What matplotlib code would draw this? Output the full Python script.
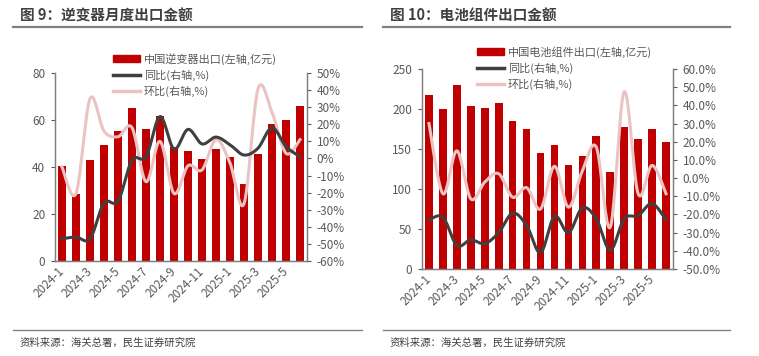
import numpy as np
import matplotlib.pyplot as plt
from matplotlib.lines import Line2D
from matplotlib.patches import Rectangle

plt.rcParams['font.family'] = ['Noto Sans CJK SC', 'DejaVu Sans']

months = ['2024-1', '2024-2', '2024-3', '2024-4', '2024-5', '2024-6', '2024-7', '2024-8', '2024-9',
          '2024-10', '2024-11', '2024-12', '2025-1', '2025-2', '2025-3', '2025-4', '2025-5', '2025-6']

# 图9 逆变器
inv_value = [40.4, 28.5, 43.0, 49.4, 55.4, 65.2, 56.2, 61.7, 48.4, 46.8, 43.4, 47.8, 44.1, 32.8, 45.4, 58.3, 59.9, 65.8]
inv_yoy = [-47, -46, -47, -26, -25, -1, 1, 24.5, 5.5, 17, 8.5, 12.5, 8, 2, 6, 18, 7, 1]
inv_mom = [-5, -20.5, 35, 16, 12.7, 18, -13.6, 10, -20.5, -4.3, -6.7, 11, -2.7, -26.4, 40.6, 27, 3, 11]

# 图10 电池组件
mod_value = [218, 200, 229.5, 203.7, 201, 207.5, 185, 175, 145, 154.5, 129.5, 141.6, 165.8, 120.8, 178, 163, 174.5, 159]
mod_yoy = [-23, -21.5, -37, -34, -36, -30, -19.3, -26, -41, -21, -30, -16.4, -22.4, -39.6, -22.4, -20.6, -14, -23]
mod_mom = [30, -8.6, 15, -11.4, -2.2, 2.4, -10.5, -5.3, -17, 6.5, -16, 4, 17, -27, 47.5, -8.6, 7, -8.6]

RED = '#C00000'
DARK = '#404040'
PINK = '#EBC3C3'
GRAY = '#595959'

W, H = 759, 356


def smooth(y, n=20):
    # catmull-rom curve through the points (like excel smoothed line)
    y = np.asarray(y, float)
    x = np.arange(len(y), dtype=float)
    px = np.concatenate([[x[0]], x, [x[-1]]])
    py = np.concatenate([[y[0]], y, [y[-1]]])
    xs, ys = [], []
    t = np.linspace(0, 1, n, endpoint=False)
    for i in range(1, len(px) - 2):
        for p, out in ((px, xs), (py, ys)):
            p0, p1, p2, p3 = p[i - 1], p[i], p[i + 1], p[i + 2]
            out.append(0.5 * (2 * p1 + (-p0 + p2) * t + (2 * p0 - 5 * p1 + 4 * p2 - p3) * t ** 2
                              + (-p0 + 3 * p1 - 3 * p2 + p3) * t ** 3))
    xs.append([x[-1]])
    ys.append([y[-1]])
    return np.concatenate(xs), np.concatenate(ys)


def frac(x0, x1, top, bottom):
    return [x0 / W, 1 - bottom / H, (x1 - x0) / W, (bottom - top) / H]


def panel(rect, values, yoy, mom, ylim, yticks, plim, pticks, pfmt, bar_label, leg_xy):
    ax = fig.add_axes(rect)
    x = np.arange(len(values))
    ax.bar(x, values, width=0.55, color=RED, zorder=1)
    ax.set_xlim(-0.5, len(values) - 0.5)
    ax.set_ylim(*ylim)
    ax.set_yticks(yticks)
    ax.set_xticks(x[::2])
    ax.set_xticklabels(months[::2], rotation=45, ha='right', va='center', rotation_mode='anchor')
    ax.tick_params(axis='x', length=0, pad=6, labelsize=8.5, colors=GRAY)
    ax.tick_params(axis='y', length=3, width=0.8, labelsize=8.5, colors=GRAY, pad=4)
    ax2 = ax.twinx()
    sx, sy = smooth(mom)
    ax2.plot(sx, sy, color=PINK, lw=2.2, zorder=3)
    sx, sy = smooth(yoy)
    ax2.plot(sx, sy, color=DARK, lw=2.2, zorder=4)
    ax2.set_ylim(*plim)
    ax2.set_yticks(pticks)
    ax2.set_yticklabels([pfmt(v) for v in pticks])
    ax2.tick_params(axis='y', length=3, width=0.8, labelsize=8.5, colors=GRAY, pad=4)
    for a in (ax, ax2):
        a.spines['top'].set_visible(False)
        for s in ('left', 'right', 'bottom'):
            a.spines[s].set_color('#7F7F7F')
            a.spines[s].set_linewidth(0.9)
    handles = [Rectangle((0, 0), 1, 1, color=RED),
               Line2D([], [], color=DARK, lw=2.5),
               Line2D([], [], color=PINK, lw=2.5)]
    fig.legend(handles, [bar_label, '同比(右轴,%)', '环比(右轴,%)'],
               loc='center left', bbox_to_anchor=(leg_xy[0] / W, 1 - leg_xy[1] / H),
               frameon=False, fontsize=8, handlelength=2.5, handleheight=0.6,
               labelspacing=0.45, handletextpad=0.3, borderpad=0, labelcolor=GRAY)
    return ax


fig = plt.figure(figsize=(W / 100, H / 100), dpi=100)

panel(frac(55, 307, 73, 261), inv_value, inv_yoy, inv_mom,
      (0, 80), [0, 20, 40, 60, 80], (-60, 50), list(range(-60, 51, 10)),
      lambda v: f'{v}%', '中国逆变器出口(左轴,亿元)', (107, 75))

panel(frac(422, 673, 69, 269), mod_value, mod_yoy, mod_mom,
      (0, 250), [0, 50, 100, 150, 200, 250], (-50, 60), list(range(-50, 61, 10)),
      lambda v: f'{v:.1f}%', '中国电池组件出口(左轴,亿元)', (471, 68))

# titles, rules and source lines
for x0, x1, title in ((13, 362, '图 9：逆变器月度出口金额'), (383, 730, '图 10：电池组件出口金额')):
    fig.text((x0 + 7) / W, 1 - 16 / H, title, fontsize=10.5, fontweight='bold', color='#404040', va='center')
    fig.add_artist(Line2D([x0 / W, x1 / W], [1 - 27 / H, 1 - 27 / H], color='#808080', lw=1.6))
    fig.add_artist(Line2D([x0 / W, x1 / W], [1 - 330 / H, 1 - 330 / H], color='#808080', lw=1.0))
    fig.text((x0 + 7) / W, 1 - 343 / H, '资料来源：海关总署，民生证券研究院', fontsize=7.5, color='#404040', va='center')

fig.savefig('out.png', dpi=100)
